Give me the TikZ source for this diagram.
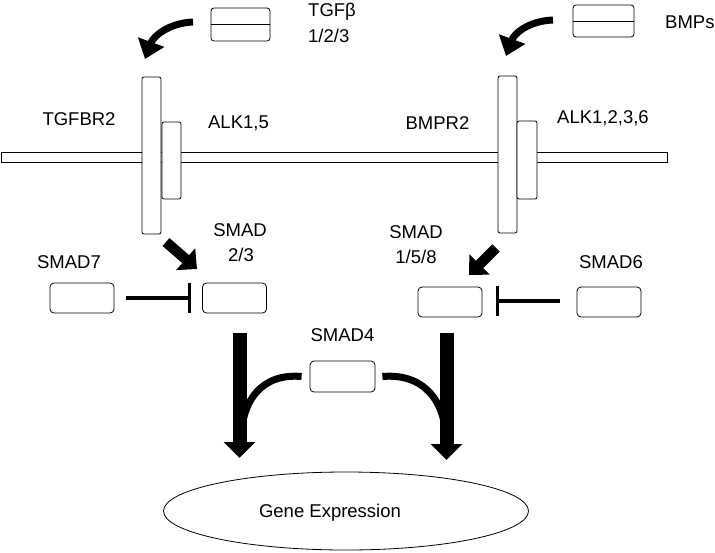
\documentclass[tikz,border=0pt]{standalone}
\usepackage{fontspec}
\setmainfont{Liberation Sans}
\usetikzlibrary{arrows.meta,shapes.geometric}
\begin{document}
\begin{tikzpicture}[x=1pt,y=-1pt,
  lbl/.style={font=\fontsize{18.5}{21}\selectfont, inner sep=0pt, align=center},
  rbox/.style={draw, rounded corners=2pt, fill=white, line width=0.8pt, inner sep=0pt},
  smad/.style={draw, rounded corners=4pt, minimum width=64pt, minimum height=30pt, inner sep=0pt, line width=0.8pt, fill=white},
  blk/.style={line width=10.5pt, -{Triangle[width=28pt,length=15pt]}},
  bigdown/.style={line width=14pt, -{Triangle[width=31pt,length=16pt]}},
  curvearr/.style={line width=7pt, -{Triangle[width=27pt,length=18pt]}},
  inhib/.style={line width=3.2pt, -{Bar[width=30pt,line width=3.2pt]}},
  feed/.style={line width=7pt}
]
\useasboundingbox (0,0) rectangle (715,552);

% membrane
\node[draw, line width=0.8pt, minimum width=666pt, minimum height=10pt, inner sep=0pt] (mem) at (334,157) {};

% receptors
\node[rbox, minimum width=19pt, minimum height=157pt] (tgfbr2) at (151.5,155.5) {};
\node[rbox, minimum width=19pt, minimum height=77pt] (alk15) at (171.5,160.5) {};
\node[rbox, minimum width=19pt, minimum height=157pt] (bmpr2) at (507.5,154.5) {};
\node[rbox, minimum width=20pt, minimum height=78pt] (alk1236) at (527,160) {};

% ligands
\node[rbox, rounded corners=3pt, minimum width=59pt, minimum height=33pt] (tgfb) at (240.5,24.5) {};
\draw[line width=0.8pt] (tgfb.west) -- (tgfb.east);
\node[rbox, rounded corners=3pt, minimum width=61pt, minimum height=32pt] (bmps) at (603.5,21) {};
\draw[line width=0.8pt] (bmps.west) -- (bmps.east);

% ligand labels
\node[lbl, anchor=west] (tgfbl) at (308,12) {TGFβ};
\node[lbl, anchor=west] (tgfbn) at (308,36) {1/2/3};
\node[lbl, anchor=west] (bmpsl) at (665,22) {BMPs};

% receptor labels
\node[lbl] (l1) at (79,119) {TGFBR2};
\node[lbl] (l2) at (238.5,123) {ALK1,5};
\node[lbl] (l3) at (437.5,123) {BMPR2};
\node[lbl] (l4) at (603,118) {ALK1,2,3,6};

% curved ligand arrows
\coordinate (c1s) at (193,22);
\coordinate (c1e) at (145,59);
\draw[curvearr] (c1s) .. controls (168,23) and (153,37) .. (c1e);
\coordinate (c2s) at (553,20);
\coordinate (c2e) at (506,56);
\draw[curvearr] (c2s) .. controls (528,21) and (514,34) .. (c2e);

% SMAD boxes
\node[smad] (smad7) at (82,298) {};
\node[smad] (smad23) at (234.5,298) {};
\node[smad] (smad158) at (450,302) {};
\node[smad] (smad6) at (609,302) {};
\node[smad, minimum width=65pt, minimum height=31pt] (smad4) at (342.5,376.5) {};

% SMAD labels
\node[lbl] (s7l) at (69,262) {SMAD7};
\node[lbl] (s23a) at (240,230) {SMAD};
\node[lbl] (s23b) at (241,255) {2/3};
\node[lbl] (s158a) at (416,232) {SMAD};
\node[lbl] (s158b) at (416,257) {1/5/8};
\node[lbl] (s6l) at (611,262) {SMAD6};
\node[lbl] (s4l) at (342.5,335) {SMAD4};

% activation block arrows
\coordinate (a1s) at (166,242);
\coordinate (a1e) at (197,269);
\draw[blk] (a1s) -- (a1e);
\coordinate (a2s) at (496,248);
\coordinate (a2e) at (469,275);
\draw[blk] (a2s) -- (a2e);

% inhibition
\coordinate (i1s) at (126,298);
\coordinate (i1e) at (191,298);
\draw[inhib] (i1s) -- (i1e);
\coordinate (i2s) at (560,301);
\coordinate (i2e) at (496,301);
\draw[inhib] (i2s) -- (i2e);

% big down arrows
\coordinate (d1s) at (239.5,333);
\coordinate (d1e) at (239.5,458);
\coordinate (d2s) at (446.5,333);
\coordinate (d2e) at (446.5,460);
\draw[bigdown] (d1s) -- (d1e);
\draw[bigdown] (d2s) -- (d2e);

% SMAD4 feed curves
\draw[feed] ([xshift=-8pt]smad4.west) .. controls (262,373) and (241,400) .. (241,442);
\draw[feed] ([xshift=7pt]smad4.east) .. controls (423,373) and (446,400) .. (446,442);

% gene expression
\node[draw, ellipse, line width=0.8pt, minimum width=365pt, minimum height=78pt, inner sep=0pt] (gene) at (346,511) {};
\node[lbl] (genel) at (330,513) {Gene Expression};
\end{tikzpicture}
\end{document}
